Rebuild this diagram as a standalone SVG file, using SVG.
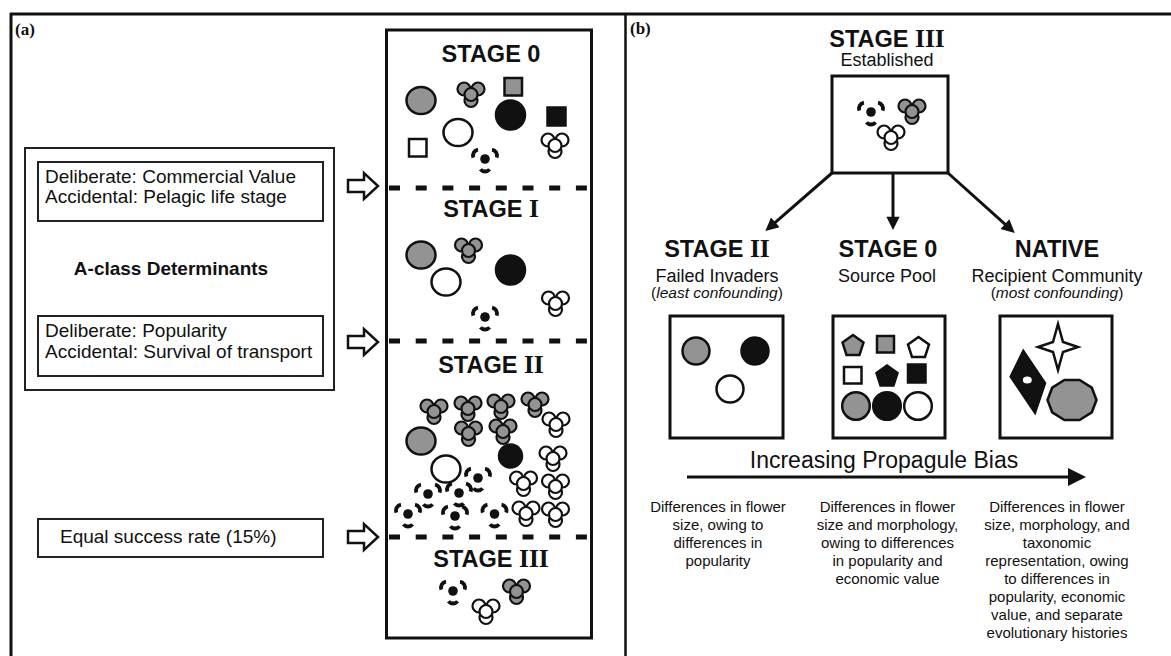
<svg xmlns="http://www.w3.org/2000/svg" xmlns:xlink="http://www.w3.org/1999/xlink" width="1171" height="656" viewBox="0 0 1171 656">
<style>
.s{font-family:"Liberation Sans",Arial,sans-serif;fill:#111}
.st{font-family:"Liberation Sans",Arial,sans-serif;font-weight:bold;font-size:23.5px;fill:#111;text-anchor:middle}
.rn{font-family:"Liberation Serif","Times New Roman",serif;font-weight:bold;font-size:25.5px}
.lbl{font-family:"Liberation Serif","Times New Roman",serif;font-weight:bold;font-size:17px;fill:#111}
.bx{fill:#fff;stroke:#222;stroke-width:2}
.sb{fill:#fff;stroke:#111;stroke-width:3}
.dash{stroke:#111;stroke-width:5;stroke-dasharray:11 15.7}
.oa{fill:#fff;stroke:#111;stroke-width:2.5;stroke-linejoin:miter}
.g{fill:#939393;stroke:#111;stroke-width:2.5}
.w{fill:#fff;stroke:#111;stroke-width:2.5}
.k{fill:#111;stroke:#111;stroke-width:2.5}
.m{font-family:"Liberation Sans",Arial,sans-serif;font-size:18px;fill:#111;text-anchor:middle}
.i{font-family:"Liberation Sans",Arial,sans-serif;font-size:15.5px;font-style:italic;fill:#111;text-anchor:middle}
.d{font-family:"Liberation Sans",Arial,sans-serif;font-size:15px;fill:#111;text-anchor:middle}
.con{stroke:#111;stroke-width:3;fill:none}
</style>
<defs>
<marker id="ah" viewBox="0 0 10 10" refX="2" refY="5" markerWidth="5.7" markerHeight="4.4" orient="auto"><path d="M0,0 L10,5 L0,10 z" fill="#111"/></marker>
<marker id="ahb" viewBox="0 0 10 10" refX="2" refY="5" markerWidth="7.7" markerHeight="6" orient="auto"><path d="M0,0 L10,5 L0,10 z" fill="#111"/></marker>
<g id="fg">
<circle cx="-7" cy="-4" r="6.5" fill="#939393" stroke="#111" stroke-width="2.2"/>
<circle cx="7" cy="-4" r="6.5" fill="#939393" stroke="#111" stroke-width="2.2"/>
<circle cx="0" cy="7.5" r="6.5" fill="#939393" stroke="#111" stroke-width="2.2"/>
<circle cx="0" cy="1.5" r="6.5" fill="#939393" stroke="#111" stroke-width="2.2"/>
</g>
<g id="fw">
<circle cx="-7" cy="-4" r="6.5" fill="#fff" stroke="#111" stroke-width="2.2"/>
<circle cx="7" cy="-4" r="6.5" fill="#fff" stroke="#111" stroke-width="2.2"/>
<circle cx="0" cy="7.5" r="6.5" fill="#fff" stroke="#111" stroke-width="2.2"/>
<circle cx="0" cy="1.5" r="6.5" fill="#fff" stroke="#111" stroke-width="2.2"/>
</g>
<g id="fk">
<circle cx="0" cy="0" r="4.8" fill="#111"/>
<path d="M-11.64,-1.45 A6,6 0 0 1 -7.04,-9.41 M7.04,-9.41 A6,6 0 0 1 11.64,-1.45 M4.6,10.36 A6,6 0 0 1 -4.6,10.36" fill="none" stroke="#111" stroke-width="3.8"/>
</g>
<polygon id="oarrow" points="0,-6 16,-6 16,-13 30,0 16,13 16,6 0,6"/>
</defs>

<g id="frame" fill="none" stroke="#111">
<line x1="10" y1="14" x2="1171" y2="14" stroke-width="3"/>
<line x1="11" y1="13" x2="11" y2="656" stroke-width="3"/>
<line x1="625.5" y1="14" x2="625.5" y2="656" stroke-width="2.5"/>
</g>

<!-- Panel (a) -->
<text class="lbl" x="15" y="35">(a)</text>

<g id="determinants">
<rect class="bx" x="25" y="148" width="309" height="242"/>
<text class="s" x="171" y="275" font-size="19" font-weight="bold" text-anchor="middle">A-class Determinants</text>
</g>
<g id="det1">
<rect class="bx" x="38" y="162" width="285" height="59"/>
<text class="s" x="45" y="183" font-size="19">Deliberate: Commercial Value</text>
<text class="s" x="45" y="203" font-size="19">Accidental: Pelagic life stage</text>
</g>
<g id="det2">
<rect class="bx" x="38" y="316" width="285" height="60"/>
<text class="s" x="45" y="337" font-size="19">Deliberate: Popularity</text>
<text class="s" x="45" y="358" font-size="19">Accidental: Survival of transport</text>
</g>
<g id="det3">
<rect class="bx" x="38" y="519" width="285" height="38"/>
<text class="s" x="60" y="543" font-size="19">Equal success rate (15%)</text>
</g>

<g id="open-arrows" class="oa">
<use xlink:href="#oarrow" href="#oarrow" transform="translate(348,186)"/>
<use xlink:href="#oarrow" href="#oarrow" transform="translate(348,342)"/>
<use xlink:href="#oarrow" href="#oarrow" transform="translate(348,537)"/>
</g>

<g id="stages-column">
<rect class="sb" x="386.5" y="30" width="205" height="608"/>
<line class="dash" x1="389" y1="188" x2="590" y2="188"/>
<line class="dash" x1="389" y1="341" x2="590" y2="341"/>
<line class="dash" x1="389" y1="537" x2="590" y2="537"/>
</g>

<g id="stage0">
<text class="st" x="491" y="62">STAGE 0</text>
<ellipse class="g" cx="421" cy="100.5" rx="14.5" ry="13.5"/>
<use href="#fg" xlink:href="#fg" x="471" y="93"/>
<rect class="g" x="504.5" y="78" width="17.5" height="17.5"/>
<circle class="k" cx="510.5" cy="115" r="14.5"/>
<rect class="k" x="547.5" y="107.5" width="18" height="18"/>
<rect class="w" x="409" y="139" width="17.5" height="17.5"/>
<ellipse class="w" cx="458" cy="132.5" rx="14.5" ry="13.5"/>
<use href="#fk" xlink:href="#fk" x="485" y="159"/>
<use href="#fw" xlink:href="#fw" x="555" y="144"/>
</g>

<g id="stage1">
<text class="st" x="491" y="217">STAGE <tspan class="rn">I</tspan></text>
<ellipse class="g" cx="421" cy="255" rx="14.5" ry="13.5"/>
<use href="#fg" xlink:href="#fg" x="468.5" y="249"/>
<circle class="k" cx="510.5" cy="270" r="14.5"/>
<ellipse class="w" cx="446" cy="282" rx="14.5" ry="13.5"/>
<use href="#fw" xlink:href="#fw" x="555.5" y="302"/>
<use href="#fk" xlink:href="#fk" x="485" y="317"/>
</g>

<g id="stage2">
<text class="st" x="491" y="373">STAGE <tspan class="rn">II</tspan></text>
<use href="#fg" xlink:href="#fg" x="434" y="410"/>
<use href="#fg" xlink:href="#fg" x="468" y="407"/>
<use href="#fg" xlink:href="#fg" x="501" y="405"/>
<use href="#fg" xlink:href="#fg" x="535" y="403"/>
<use href="#fg" xlink:href="#fg" x="468.5" y="432"/>
<use href="#fg" xlink:href="#fg" x="503" y="430"/>
<use href="#fw" xlink:href="#fw" x="556" y="423"/>
<use href="#fw" xlink:href="#fw" x="553" y="457"/>
<use href="#fw" xlink:href="#fw" x="523.5" y="482"/>
<use href="#fw" xlink:href="#fw" x="555.5" y="485"/>
<use href="#fw" xlink:href="#fw" x="526" y="512"/>
<use href="#fw" xlink:href="#fw" x="555.5" y="513"/>
<ellipse class="g" cx="421" cy="441" rx="14.5" ry="13.5"/>
<ellipse class="w" cx="446" cy="469" rx="14.5" ry="13.5"/>
<circle class="k" cx="510.5" cy="456" r="11.5"/>
<use href="#fk" xlink:href="#fk" x="478" y="478"/>
<use href="#fk" xlink:href="#fk" x="428" y="494"/>
<use href="#fk" xlink:href="#fk" x="459" y="493"/>
<use href="#fk" xlink:href="#fk" x="408" y="514"/>
<use href="#fk" xlink:href="#fk" x="455" y="516"/>
<use href="#fk" xlink:href="#fk" x="494.5" y="514"/>
</g>

<g id="stage3">
<text class="st" x="491" y="567">STAGE <tspan class="rn">III</tspan></text>
<use href="#fk" xlink:href="#fk" x="453" y="591"/>
<use href="#fg" xlink:href="#fg" x="516.5" y="590"/>
<use href="#fw" xlink:href="#fw" x="486" y="610"/>
</g>

<!-- Panel (b) -->
<text class="lbl" x="630" y="34">(b)</text>

<g id="b-stage3">
<text class="st" x="887" y="47">STAGE <tspan class="rn">III</tspan></text>
<text class="m" x="887" y="66">Established</text>
<rect class="sb" x="832" y="76" width="116" height="97"/>
<use href="#fk" xlink:href="#fk" x="871" y="112"/>
<use href="#fg" xlink:href="#fg" x="912" y="110"/>
<use href="#fw" xlink:href="#fw" x="891" y="136"/>
</g>

<g id="connectors" class="con">
<line x1="832" y1="173" x2="773.3" y2="224.1" marker-end="url(#ah)"/>
<line x1="893" y1="173" x2="893" y2="219.4" marker-end="url(#ah)"/>
<line x1="948" y1="173" x2="1006.9" y2="225.9" marker-end="url(#ah)"/>
<line x1="687" y1="477" x2="1071.6" y2="477" marker-end="url(#ahb)"/>
</g>

<g id="b-stage2">
<text class="st" x="717" y="257">STAGE <tspan class="rn">II</tspan></text>
<text class="m" x="717" y="282">Failed Invaders</text>
<text class="i" x="717" y="298"><tspan font-style="normal">(</tspan>least confounding<tspan font-style="normal">)</tspan></text>
<rect class="sb" x="670" y="316" width="113" height="122"/>
<circle class="g" cx="696" cy="351" r="13.5"/>
<circle class="k" cx="755" cy="351" r="13.5"/>
<circle class="w" cx="730" cy="389" r="13.5"/>
</g>

<g id="b-stage0">
<text class="st" x="888" y="257">STAGE 0</text>
<text class="m" x="887" y="282">Source Pool</text>
<rect class="sb" x="833" y="316" width="112" height="122"/>
<polygon class="g" points="853,335 863.5,342.6 859.5,355 846.5,355 842.5,342.6"/>
<rect class="g" x="877" y="336" width="17" height="16.5"/>
<polygon class="w" points="918.5,337 929,344.6 925,357 912,357 908,344.6"/>
<rect class="w" x="844" y="367" width="17.5" height="16.5"/>
<polygon class="k" points="887,365.5 897.5,373.1 893.5,385.5 880.5,385.5 876.5,373.1"/>
<rect class="k" x="908" y="364.5" width="17.5" height="18"/>
<circle class="g" cx="856" cy="406" r="13.8"/>
<circle class="k" cx="887" cy="406" r="13.8"/>
<circle class="w" cx="918" cy="406" r="13.8"/>
</g>

<g id="b-native">
<text class="st" x="1057" y="257">NATIVE</text>
<text class="m" x="1057" y="282">Recipient Community</text>
<text class="i" x="1057" y="298"><tspan font-style="normal">(</tspan>most confounding<tspan font-style="normal">)</tspan></text>
<rect class="sb" x="1000" y="316" width="112" height="122"/>
<path class="w" d="M1058,324 L1063,342 L1078,347 L1063,352 L1058,370 L1053,352 L1038,347 L1053,342 Z"/>
<polygon class="k" points="1023.3,351 1045,383.3 1035,412.7 1010.7,376.7"/>
<ellipse cx="1027.3" cy="380" rx="4.5" ry="3.5" fill="#fff"/>
<polygon class="g" points="1096.5,400 1091.8,412.3 1079.6,420 1064.4,420 1052.2,412.3 1047.5,400 1052.2,387.7 1064.4,380 1079.6,380 1091.8,387.7"/>
</g>

<text class="s" x="884" y="468" font-size="23" text-anchor="middle">Increasing Propagule Bias</text>

<g id="desc1">
<text class="d" x="718" y="512">Differences in flower</text>
<text class="d" x="718" y="530">size, owing to</text>
<text class="d" x="718" y="548">differences in</text>
<text class="d" x="718" y="566">popularity</text>
</g>
<g id="desc2">
<text class="d" x="887.5" y="512">Differences in flower</text>
<text class="d" x="887.5" y="530">size and morphology,</text>
<text class="d" x="887.5" y="548">owing to differences</text>
<text class="d" x="887.5" y="566">in popularity and</text>
<text class="d" x="887.5" y="584">economic value</text>
</g>
<g id="desc3">
<text class="d" x="1057" y="512">Differences in flower</text>
<text class="d" x="1057" y="530">size, morphology, and</text>
<text class="d" x="1057" y="548">taxonomic</text>
<text class="d" x="1057" y="566">representation, owing</text>
<text class="d" x="1057" y="584">to differences in</text>
<text class="d" x="1057" y="602">popularity, economic</text>
<text class="d" x="1057" y="620">value, and separate</text>
<text class="d" x="1057" y="638">evolutionary histories</text>
</g>
</svg>
